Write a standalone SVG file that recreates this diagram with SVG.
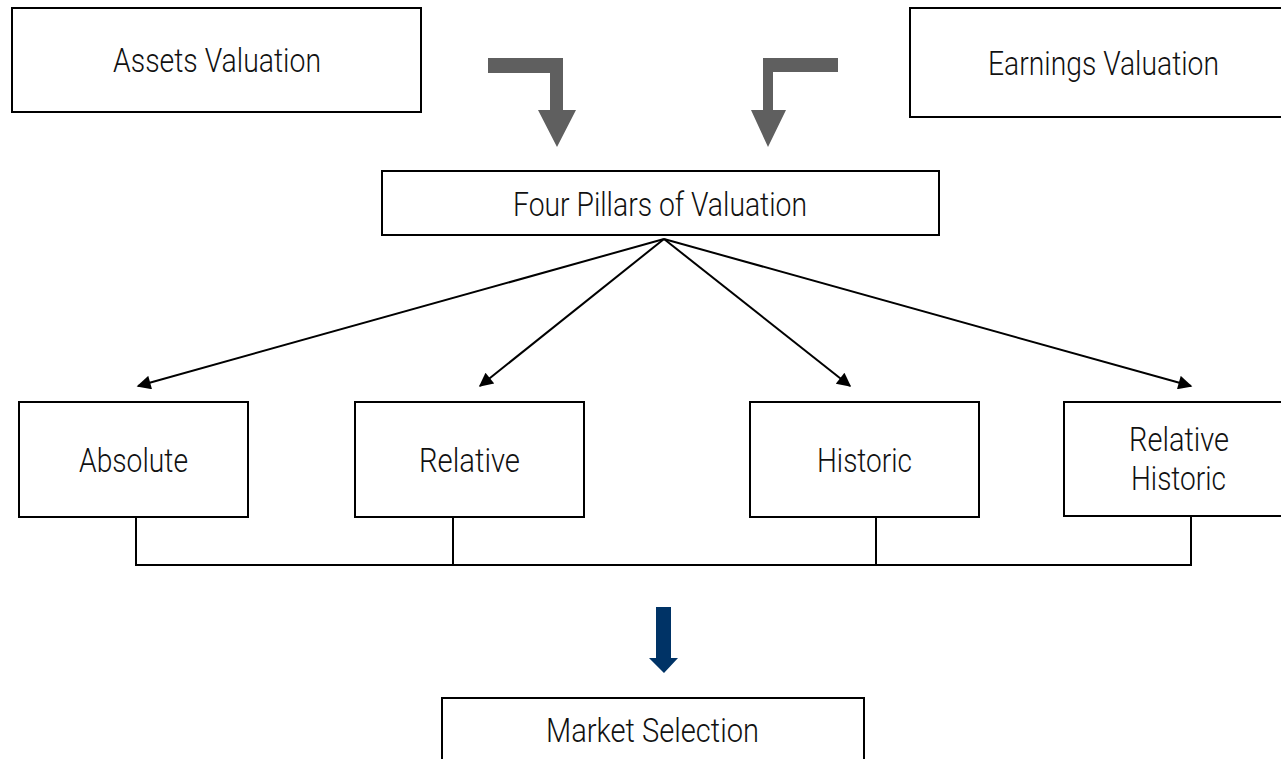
<svg xmlns="http://www.w3.org/2000/svg" width="1281" height="759" viewBox="0 0 1281 759">
<defs>
<style>
.box{fill:#fff;stroke:#000;stroke-width:2}
.t{font-family:Roboto,"Liberation Sans",sans-serif;font-size:33px;font-weight:300;fill:#111}
.ln{stroke:#000;stroke-width:2;fill:none}
.gray{fill:#5f5f5f}
</style>
<marker id="ah" viewBox="0 0 10 10" refX="9" refY="5" markerWidth="16" markerHeight="14" markerUnits="userSpaceOnUse" orient="auto">
<path d="M0,0 L10,5 L0,10 z" fill="#000"/>
</marker>
</defs>
<rect width="1281" height="759" fill="#fff"/>
<g id="assets"><rect class="box" x="12" y="8" width="409" height="104"/><text class="t" x="113" y="72" textLength="208" lengthAdjust="spacingAndGlyphs">Assets Valuation</text></g>
<g id="earnings"><rect class="box" x="910" y="8" width="380" height="109"/><text class="t" x="988" y="75" textLength="231" lengthAdjust="spacingAndGlyphs">Earnings Valuation</text></g>
<g id="pillars"><rect class="box" x="382" y="171" width="557" height="64"/><text class="t" x="513" y="216" textLength="294" lengthAdjust="spacingAndGlyphs">Four Pillars of Valuation</text></g>
<g id="absolute"><rect class="box" x="19" y="402" width="229" height="115"/><text class="t" x="79" y="472" textLength="109" lengthAdjust="spacingAndGlyphs">Absolute</text></g>
<g id="relative"><rect class="box" x="355" y="402" width="229" height="115"/><text class="t" x="419" y="472" textLength="101" lengthAdjust="spacingAndGlyphs">Relative</text></g>
<g id="historic"><rect class="box" x="750" y="402" width="229" height="115"/><text class="t" x="817" y="472" textLength="95" lengthAdjust="spacingAndGlyphs">Historic</text></g>
<g id="relhist"><rect class="box" x="1064" y="402" width="230" height="114"/><text class="t" x="1129" y="451" textLength="100" lengthAdjust="spacingAndGlyphs">Relative</text><text class="t" x="1131" y="490" textLength="95" lengthAdjust="spacingAndGlyphs">Historic</text></g>
<g id="market"><rect class="box" x="442" y="698" width="422" height="70"/><text class="t" x="546" y="742" textLength="213" lengthAdjust="spacingAndGlyphs">Market Selection</text></g>
<g id="connectors">
<path class="gray" d="M488,58 H563 V110 H576 L557,147 L538,110 H550 V73 H488 Z"/>
<path class="gray" d="M838,58 H763 V110 H751 L768,147 L786,110 H773 V72 H838 Z"/>
<path fill="#003366" d="M656,607 H671 V658 H678 L664,673 L649,658 H656 Z"/>
<line class="ln" x1="664" y1="239" x2="138" y2="386" marker-end="url(#ah)"/>
<line class="ln" x1="664" y1="239" x2="480" y2="386" marker-end="url(#ah)"/>
<line class="ln" x1="664" y1="239" x2="850" y2="386" marker-end="url(#ah)"/>
<line class="ln" x1="664" y1="239" x2="1191" y2="386" marker-end="url(#ah)"/>
<path class="ln" d="M136,517 V565 H1191 V516 M453,517 V565 M876,517 V565"/>
</g>
</svg>
